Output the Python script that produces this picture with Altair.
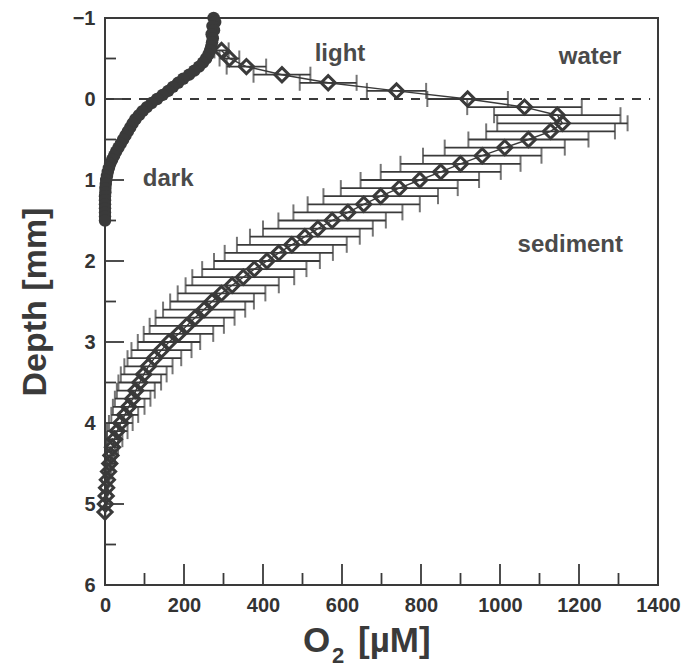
import altair as alt
import pandas as pd

# --- dark incubation: O2 profile (filled circles), depth in mm, O2 in µM
dark_depth = [-1.00, -0.95, -0.90, -0.85, -0.80, -0.75, -0.70, -0.65, -0.60, -0.55,
              -0.50, -0.45, -0.40, -0.35, -0.30, -0.25, -0.20, -0.15, -0.10, -0.05,
              0.00, 0.05, 0.10, 0.15, 0.20, 0.25, 0.30, 0.35, 0.40, 0.45,
              0.50, 0.55, 0.60, 0.65, 0.70, 0.75, 0.80, 0.85, 0.90, 0.95,
              1.00, 1.05, 1.10, 1.15, 1.20, 1.25, 1.30, 1.35, 1.40, 1.45, 1.50]
dark_o2 = [275, 279, 272, 276, 270, 273, 271, 269, 266, 262,
           256, 248, 238, 226, 213, 198, 185, 172, 160, 146,
           132, 118, 106, 95, 86, 77, 70, 64, 58, 52,
           46, 40, 34, 28, 23, 18, 13, 10, 7, 5,
           3, 2, 1, 1, 0, 0, 0, 0, 0, 0, 0]

# --- light incubation: mean O2 profile (open diamonds) with ± standard deviation
light_depth = [-0.6, -0.5, -0.4, -0.3, -0.2, -0.1, 0.0, 0.1, 0.2, 0.3,
               0.4, 0.5, 0.6, 0.7, 0.8, 0.9, 1.0, 1.1, 1.2, 1.3,
               1.4, 1.5, 1.6, 1.7, 1.8, 1.9, 2.0, 2.1, 2.2, 2.3,
               2.4, 2.5, 2.6, 2.7, 2.8, 2.9, 3.0, 3.1, 3.2, 3.3,
               3.4, 3.5, 3.6, 3.7, 3.8, 3.9, 4.0, 4.1, 4.2, 4.3,
               4.4, 4.5, 4.6, 4.7, 4.8, 4.9, 5.0, 5.1]
light_o2 = [295, 315, 358, 448, 565, 738, 918, 1062, 1145, 1158,
            1128, 1072, 1012, 955, 900, 850, 797, 745, 698, 655,
            615, 575, 539, 506, 473, 440, 410, 378, 350, 322,
            295, 271, 251, 228, 207, 186, 162, 143, 125, 110,
            98, 88, 78, 70, 60, 50, 40, 31, 24, 19,
            15, 12, 9, 6, 4, 3, 1, 0]
light_sd = [18, 25, 50, 72, 72, 75, 102, 145, 160, 165,
            163, 152, 152, 150, 152, 152, 150, 148, 145, 142,
            138, 136, 139, 139, 139, 137, 134, 132, 129, 118,
            111, 106, 104, 100, 94, 88, 79, 76, 68, 61,
            58, 54, 48, 45, 40, 34, 30, 26, 20, 14,
            10, 8, 6, 5, 4, 3, 2, 1]

# --- annotations
label_text = ["light", "water", "dark", "sediment"]
label_o2 = [595, 1228, 160, 1178]
label_depth = [-0.56, -0.52, 0.99, 1.80]

# --- axis ticks
depth_major = [-1, 0, 1, 2, 3, 4, 5, 6]
depth_minor = [-0.5, 0.5, 1.5, 2.5, 3.5, 4.5, 5.5]
o2_major = [0, 200, 400, 600, 800, 1000, 1200, 1400]
o2_minor = [100, 300, 500, 700, 900, 1100, 1300]

INK = "#3a3a3a"
FONT = "Liberation Sans"
W, H = 553, 567

dark = pd.DataFrame({"depth": dark_depth, "o2": dark_o2})
light = pd.DataFrame({"depth": light_depth, "o2": light_o2, "sd": light_sd})
light["lo"] = (light["o2"] - light["sd"]).clip(lower=0)
light["hi"] = light["o2"] + light["sd"]
labels = pd.DataFrame({"text": label_text, "o2": label_o2, "depth": label_depth})

xscale = alt.Scale(domain=[0, 1400], nice=False, zero=False)
yscale = alt.Scale(domain=[-1, 6], reverse=True, nice=False, zero=False)

x_axis = alt.Axis(values=o2_major, format="d", ticks=False, domain=False, grid=False,
                  labelFont=FONT, labelFontSize=20, labelFontWeight="bold",
                  labelColor="#333333", labelPadding=10, labelFlush=False, title=None)
y_axis = alt.Axis(values=depth_major, format="d", ticks=False, domain=False, grid=False,
                  labelFont=FONT, labelFontSize=20, labelFontWeight="bold",
                  labelColor="#333333", labelPadding=10, labelFlush=False,
                  title="Depth [mm]", titleFont=FONT, titleFontSize=34,
                  titleFontWeight="bold", titleColor="#3a3a3a", titlePadding=20)


def X(f="o2"):
    return alt.X(f"{f}:Q", scale=xscale, axis=x_axis)


def Y(f="depth"):
    return alt.Y(f"{f}:Q", scale=yscale, axis=y_axis)


# inward-pointing ticks on the left and bottom edges
ytick_major = alt.Chart(pd.DataFrame({"depth": depth_major})).mark_rule(
    color=INK, strokeWidth=1.8).encode(x=alt.value(0), x2=alt.value(19), y=Y())
ytick_minor = alt.Chart(pd.DataFrame({"depth": depth_minor})).mark_rule(
    color=INK, strokeWidth=1.8).encode(x=alt.value(0), x2=alt.value(11), y=Y())
xtick_major = alt.Chart(pd.DataFrame({"o2": o2_major})).mark_rule(
    color=INK, strokeWidth=1.8).encode(y=alt.value(H), y2=alt.value(H - 21), x=X())
xtick_minor = alt.Chart(pd.DataFrame({"o2": o2_minor})).mark_rule(
    color=INK, strokeWidth=1.8).encode(y=alt.value(H), y2=alt.value(H - 12), x=X())

# sediment surface
surface = alt.Chart(pd.DataFrame({"o2": [0], "o2b": [1380], "depth": [0]})).mark_rule(
    color=INK, strokeWidth=2, strokeDash=[9, 8]).encode(
    x=X(), x2="o2b:Q", y=Y())

# error bars with caps
bars = alt.Chart(light).mark_rule(color=INK, strokeWidth=1.8).encode(
    x=X("lo"), x2="hi:Q", y=Y())
cap_lo = alt.Chart(light).mark_tick(color=INK, thickness=2, size=16, orient="vertical").encode(
    x=X("lo"), y=Y())
cap_hi = alt.Chart(light).mark_tick(color=INK, thickness=2, size=16, orient="vertical").encode(
    x=X("hi"), y=Y())

light_line = alt.Chart(light).mark_line(color=INK, strokeWidth=1.4).encode(
    x=X(), y=Y(), order="depth:Q")
light_pts = alt.Chart(light).mark_point(
    shape="diamond", filled=False, color=INK, strokeWidth=3, size=200, opacity=1).encode(
    x=X(), y=Y())

dark_pts = alt.Chart(dark).mark_circle(color=INK, size=155, opacity=1).encode(
    x=X(), y=Y())

text = alt.Chart(labels).mark_text(
    font=FONT, fontSize=24, fontWeight="bold", color="#4a4a4a",
    align="center", baseline="middle").encode(x=X(), y=Y(), text="text:N")

# x-axis title with subscript (positions relative to the plot area)
xt_o = alt.Chart(pd.DataFrame({"t": ["O"]})).mark_text(
    font=FONT, fontSize=35, fontWeight="bold", color="#3a3a3a", align="left",
    baseline="alphabetic").encode(x=alt.value(198), y=alt.value(634), text="t:N")
xt_2 = alt.Chart(pd.DataFrame({"t": ["2"]})).mark_text(
    font=FONT, fontSize=22, fontWeight="bold", color="#3a3a3a", align="left",
    baseline="alphabetic").encode(x=alt.value(227), y=alt.value(645), text="t:N")
xt_u = alt.Chart(pd.DataFrame({"t": ["[µM]"]})).mark_text(
    font=FONT, fontSize=35, fontWeight="bold", color="#3a3a3a", align="left",
    baseline="alphabetic").encode(x=alt.value(253), y=alt.value(634), text="t:N")

chart = alt.layer(
    surface, bars, cap_lo, cap_hi, light_line, light_pts, dark_pts,
    ytick_major, ytick_minor, xtick_major, xtick_minor, text, xt_o, xt_2, xt_u,
).properties(
    width=W, height=H,
    autosize=alt.AutoSizeParams(type="none"),
    padding={"left": 105, "top": 18, "right": 31, "bottom": 83},
).configure(
    background="white",
).configure_view(
    stroke=INK, strokeWidth=2, clip=False,
)

chart.save("out.html", embed_options={"renderer": "svg", "actions": False})
